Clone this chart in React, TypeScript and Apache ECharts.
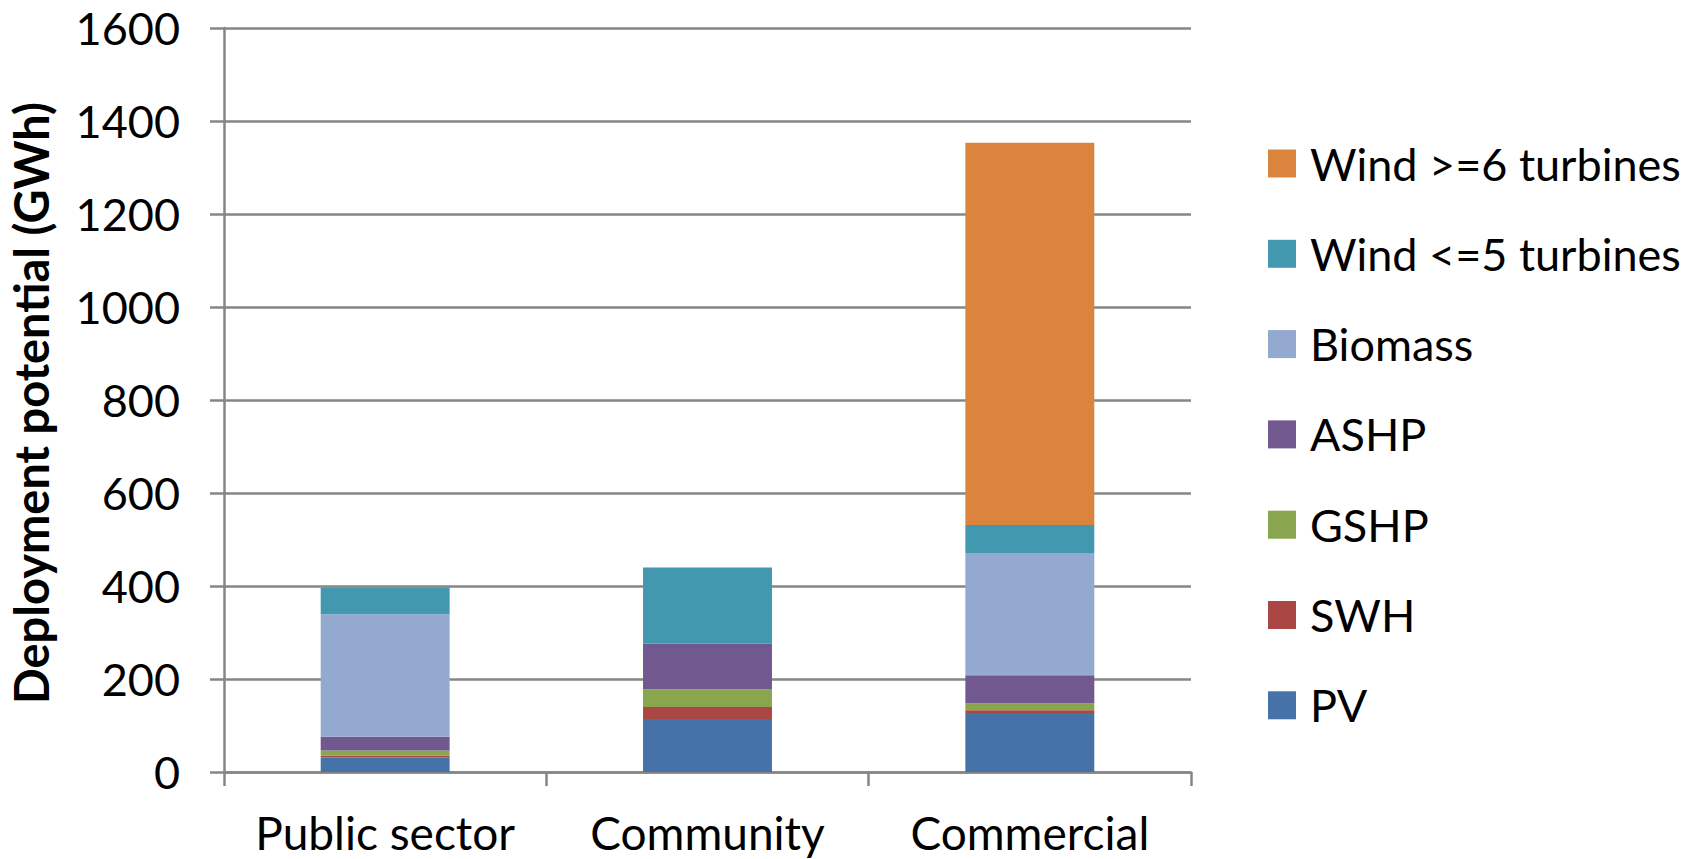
import React, { useEffect, useRef } from "react";
import * as echarts from "echarts";

const categories = ["Public sector", "Community", "Commercial"];

const pv = [31, 114, 127];
const swh = [4, 26, 6];
const gshp = [11, 38, 15];
const ashp = [30, 98, 60];
const biomass = [263, 0, 263];
const windSmall = [58, 164, 60];
const windLarge = [0, 0, 822];

const seriesDefs = [
  { name: "PV", data: pv, color: "#4572A7" },
  { name: "SWH", data: swh, color: "#AA4643" },
  { name: "GSHP", data: gshp, color: "#89A54E" },
  { name: "ASHP", data: ashp, color: "#71588F" },
  { name: "Biomass", data: biomass, color: "#93A9CF" },
  { name: "Wind <=5 turbines", data: windSmall, color: "#4198AF" },
  { name: "Wind >=6 turbines", data: windLarge, color: "#DB843D" },
];

const yTicks = { min: 0, max: 1600, interval: 200 };
const yTitle = "Deployment potential (GWh)";

const FONT = "Lato, 'Open Sans', sans-serif";
const AXIS_GREY = "#868686";

export default function App() {
  const ref = useRef<HTMLDivElement>(null);

  useEffect(() => {
    if (!ref.current) return;
    const chart = echarts.init(ref.current, undefined, { renderer: "svg" });
    chart.setOption({
      animation: false,
      backgroundColor: "#ffffff",
      textStyle: { fontFamily: FONT },
      grid: { left: 224, right: 512, top: 28, bottom: 87, containLabel: false },
      graphic: [
        {
          type: "text",
          x: 31,
          y: 403,
          rotation: Math.PI / 2,
          style: {
            text: yTitle,
            fontFamily: FONT,
            fontSize: 47,
            fontWeight: "bold",
            fill: "#000000",
            align: "center",
            verticalAlign: "middle",
          },
        },
      ],
      legend: {
        data: seriesDefs.map((s) => s.name).reverse(),
        orient: "vertical",
        left: 1263,
        top: 136,
        icon: "rect",
        itemWidth: 28,
        itemHeight: 28,
        itemGap: 45.3,
        selectedMode: false,
        textStyle: {
          fontFamily: FONT,
          fontSize: 45,
          lineHeight: 42,
          color: "#000000",
          padding: [0, 0, 0, 9],
        },
      },
      xAxis: {
        type: "category",
        data: categories,
        axisLine: { show: true, lineStyle: { color: AXIS_GREY, width: 2.5 } },
        axisTick: {
          show: true,
          alignWithLabel: false,
          length: 14,
          lineStyle: { color: AXIS_GREY, width: 2.5 },
        },
        axisLabel: {
          fontFamily: FONT,
          fontSize: 46,
          lineHeight: 46,
          color: "#000000",
          margin: 37,
          interval: 0,
        },
      },
      yAxis: {
        type: "value",
        min: yTicks.min,
        max: yTicks.max,
        interval: yTicks.interval,
        axisLine: { show: true, lineStyle: { color: AXIS_GREY, width: 2.5 } },
        axisTick: { show: true, length: 14, lineStyle: { color: AXIS_GREY, width: 2.5 } },
        axisLabel: {
          fontFamily: FONT,
          fontSize: 45,
          color: "#000000",
          margin: 44,
          formatter: (v: number) => String(v),
        },
        splitLine: { show: true, lineStyle: { color: AXIS_GREY, width: 2.5 } },
      },
      series: seriesDefs.map((s) => ({
        name: s.name,
        type: "bar",
        stack: "total",
        data: s.data,
        barCategoryGap: "60%",
        itemStyle: { color: s.color },
        emphasis: { disabled: true },
      })),
    });
    return () => chart.dispose();
  }, []);

  return (
    <div
      ref={ref}
      style={{ position: "fixed", left: 0, top: 0, width: 1703, height: 859 }}
    />
  );
}
